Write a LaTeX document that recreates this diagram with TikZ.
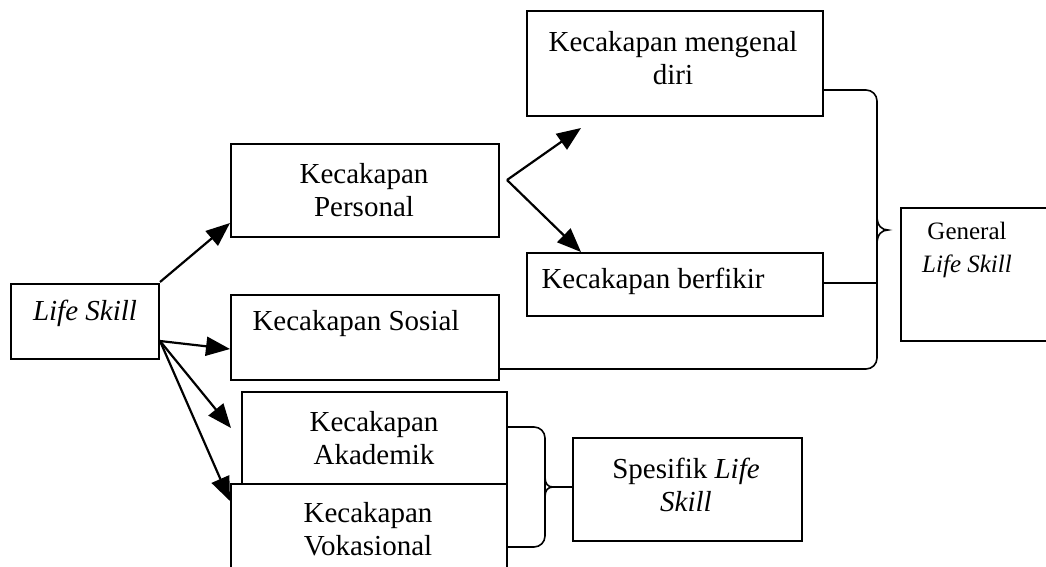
\documentclass[tikz,border=0pt]{standalone}
\usepackage{fontspec}
\setmainfont{Liberation Serif}
\usetikzlibrary{arrows.meta}
\begin{document}
\begin{tikzpicture}[x=1pt,y=-1pt,
  box/.style={draw=black,line width=1.6pt,fill=white,inner sep=0pt},
  txt/.style={inner sep=0pt,align=center,font=\fontsize{29}{33}\selectfont},
  arr/.style={line width=2.2pt,-{Triangle[length=24pt,width=19pt]}},
  conn/.style={line width=1.6pt,rounded corners=11pt}]
\useasboundingbox (0,0) rectangle (1046,566);
\clip (0,0) rectangle (1046,566);
\fill[white] (0,0) rectangle (1046,566);
% boxes
\node[box,anchor=north west,minimum width=148pt,minimum height=75pt] (ls) at (10,283) {};
\node[box,anchor=north west,minimum width=268pt,minimum height=93pt] (pers) at (230,143) {};
\node[box,anchor=north west,minimum width=268pt,minimum height=85pt] (sos) at (230,294) {};
\node[box,anchor=north west,minimum width=296pt,minimum height=105pt] (meng) at (526,10) {};
\node[box,anchor=north west,minimum width=296pt,minimum height=63pt] (berf) at (526,252) {};
\node[box,anchor=north west,minimum width=160pt,minimum height=133pt] (gen) at (900,207) {};
\node[box,anchor=north west,minimum width=265pt,minimum height=92pt] (akad) at (241,391) {};
\node[box,anchor=north west,minimum width=276pt,minimum height=120pt] (vok) at (230,483) {};
\node[box,anchor=north west,minimum width=229pt,minimum height=103pt] (spes) at (572,437) {};
% texts
\node[txt] (ls-t) at (85,313) {\textit{Life Skill}};
\node[txt] (pers-t) at (364,190) {Kecakapan\\Personal};
\node[txt] (sos-t) at (356,324) {Kecakapan Sosial};
\node[txt] (meng-t) at (673,58) {Kecakapan mengenal\\diri};
\node[txt] (berf-t) at (653,281) {Kecakapan berfikir};
\node[txt,font=\fontsize{25}{33}\selectfont] (gen-t) at (967,250) {General\\\textit{Life Skill}};
\node[txt] (akad-t) at (374,438) {Kecakapan\\Akademik};
\node[txt] (vok-t) at (368,529) {Kecakapan\\Vokasional};
\node[txt] (spes-t) at (686,485) {Spesifik \textit{Life}\\\textit{Skill}};
% connectors
\coordinate (o1) at (160,282);
\coordinate (o2) at (160,341);
\coordinate (v) at (507,180);
\coordinate (mtip) at (581,128);
\draw[arr] (o1) -- (pers.west |- 0,223);
\draw[arr] (o2) -- (sos.west |- 0,349);
\draw[arr] (o2) -- (231,428);
\draw[arr] (o2) -- (230,501);
\draw[arr] (v) -- (mtip);
\draw[arr] (v) -- (581,252);
% big brace
\coordinate (btip) at (888,230);
\draw[conn] (meng.east |- 0,90) -- (877,90) -- (877,230);
\draw[line width=1.6pt] (877,216) .. controls (877,226) and (882,230) .. (btip) .. controls (882,230) and (877,234) .. (877,244);
\draw[conn] (877,230) -- (877,369) -- (sos.east |- 0,369);
\draw[line width=1.6pt] (berf.east |- 0,283) -- (877,283);
% small brace
\coordinate (stip) at (553,487);
\draw[conn] (akad.east |- 0,427) -- (545,427) -- (545,487);
\draw[line width=1.6pt] (545,477) .. controls (545,484) and (548,487) .. (stip) .. controls (548,487) and (545,490) .. (545,497);
\draw[conn] (545,487) -- (545,547) -- (vok.east |- 0,547);
\draw[line width=1.6pt] (stip) -- (spes.west |- stip);
\end{tikzpicture}
\end{document}
